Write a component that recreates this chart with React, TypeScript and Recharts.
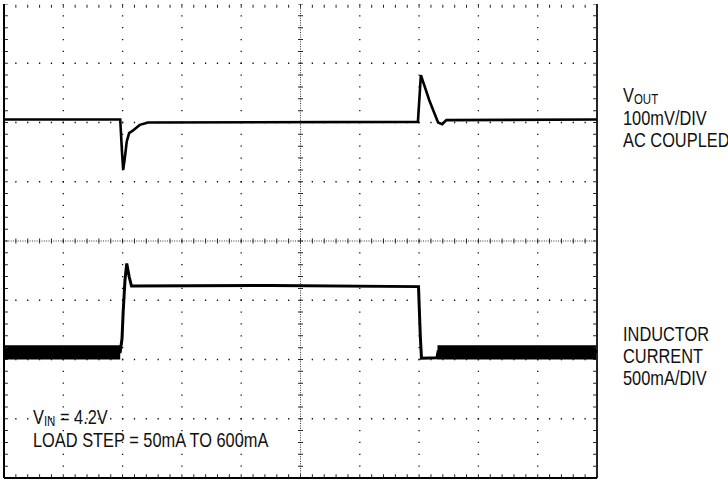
import { ComposedChart, Line, Area, XAxis, YAxis, ReferenceLine } from 'recharts';

// horizontal: time in divisions (0..10), vertical: level in divisions (-4..4)
const voutTime = [0, 1.96, 1.99, 2.01, 2.04, 2.07, 2.11, 2.18, 2.29, 2.43, 6.98, 7.03, 7.17, 7.32, 7.39, 7.46, 10];
const voutLevel = [2.05, 2.05, 1.5, 1.2, 1.42, 1.68, 1.82, 1.87, 1.96, 2.0, 2.01, 2.8, 2.38, 2.0, 1.97, 2.04, 2.05];

const currentTime = [0, 1.96, 1.99, 2.01, 2.04, 2.07, 2.11, 2.15, 4.5, 6.99, 7.02, 7.04, 7.3, 7.32, 10];
const currentLevel = [-1.87, -1.87, -1.65, -1.19, -0.66, -0.38, -0.6, -0.76, -0.75, -0.77, -1.6, -1.98, -1.97, -1.87, -1.87];

// light-load switching ripple shows up as a solid band
const rippleLeft = [0, 1.96];
const rippleRight = [7.31, 10];
const rippleRange = [-2.0, -1.76];

const majorT = [1, 2, 3, 4, 6, 7, 8, 9];
const majorV = [-3, -2, -1, 1, 2, 3];

const voutData = voutTime.map((t, i) => ({ t, v: voutLevel[i] }));
const currentData = currentTime.map((t, i) => ({ t, v: currentLevel[i] }));
const bandLeft = rippleLeft.map((t) => ({ t, band: rippleRange }));
const bandRight = rippleRight.map((t) => ({ t, band: rippleRange }));

const FONT = "'Liberation Sans', Arial, sans-serif";
const NARROW = 0.82; // no condensed face installed, squeeze the regular one
const DOT_H = '1.3 10.56';
const DOT_V = '1.3 10.55';

function Label({ x, lines }: { x: number; lines: { y: number; text: React.ReactNode }[] }) {
  return (
    <g transform={`translate(${x},0) scale(${NARROW},1)`}>
      {lines.map((l, i) => (
        <text key={i} x={0} y={l.y}>
          {l.text}
        </text>
      ))}
    </g>
  );
}

export default function App() {
  return (
    <div style={{ position: 'absolute', left: 0, top: 0, width: 728, height: 486, background: '#fff' }}>
      <ComposedChart width={728} height={486} margin={{ top: 4, right: 131, bottom: 8, left: 4 }}>
        <XAxis type="number" dataKey="t" domain={[0, 10]} hide allowDataOverflow />
        <YAxis type="number" domain={[-4, 4]} hide allowDataOverflow />

        {/* dotted graticule */}
        {majorT.map((t) => (
          <ReferenceLine key={'t' + t} x={t} stroke="#111" strokeWidth={1.3} strokeDasharray={DOT_V} strokeDashoffset={0.65} />
        ))}
        {majorV.map((v) => (
          <ReferenceLine key={'v' + v} y={v} stroke="#111" strokeWidth={1.3} strokeDasharray={DOT_H} strokeDashoffset={0.65} />
        ))}

        {/* center axes with fine dots and minor ticks */}
        <ReferenceLine x={5} stroke="#333" strokeWidth={1} strokeDasharray="1 1.37" strokeDashoffset={0.5} />
        <ReferenceLine x={5} stroke="#222" strokeWidth={5} strokeDasharray="1 10.85" strokeDashoffset={0.5} />
        <ReferenceLine y={0} stroke="#333" strokeWidth={1} strokeDasharray="1 1.37" strokeDashoffset={0.5} />
        <ReferenceLine y={0} stroke="#222" strokeWidth={5} strokeDasharray="1 10.86" strokeDashoffset={0.5} />

        {/* edge ticks */}
        <ReferenceLine x={0.04} stroke="#222" strokeWidth={3} strokeDasharray="1 10.85" strokeDashoffset={0.5} />
        <ReferenceLine x={9.96} stroke="#222" strokeWidth={3} strokeDasharray="1 10.85" strokeDashoffset={0.5} />
        <ReferenceLine y={3.96} stroke="#222" strokeWidth={3} strokeDasharray="1 10.86" strokeDashoffset={0.5} />
        <ReferenceLine y={-3.96} stroke="#222" strokeWidth={3} strokeDasharray="1 10.86" strokeDashoffset={0.5} />

        {/* frame */}
        <ReferenceLine x={0} stroke="#000" strokeWidth={2} />
        <ReferenceLine x={10} stroke="#222" strokeWidth={2} />
        <ReferenceLine y={-4} stroke="#000" strokeWidth={2} />

        <Area data={bandLeft} dataKey="band" type="linear" stroke="none" fill="#000" fillOpacity={1} isAnimationActive={false} />
        <Area data={bandRight} dataKey="band" type="linear" stroke="none" fill="#000" fillOpacity={1} isAnimationActive={false} />
        <Line data={currentData} dataKey="v" type="linear" stroke="#000" strokeWidth={3} dot={false} isAnimationActive={false} />
        <Line data={voutData} dataKey="v" type="linear" stroke="#000" strokeWidth={2.6} dot={false} isAnimationActive={false} />
      </ComposedChart>

      <svg width={728} height={486} style={{ position: 'absolute', left: 0, top: 0, pointerEvents: 'none' }}>
        <g fontFamily={FONT} fontSize={20} fill="#111">
          <Label
            x={623}
            lines={[
              { y: 102, text: <>V<tspan fontSize={14} dy={2.5}>OUT</tspan></> },
              { y: 125, text: '100mV/DIV' },
              { y: 147, text: 'AC COUPLED' },
            ]}
          />
          <Label
            x={623}
            lines={[
              { y: 341, text: 'INDUCTOR' },
              { y: 363, text: 'CURRENT' },
              { y: 385, text: '500mA/DIV' },
            ]}
          />
          <Label
            x={33}
            lines={[
              { y: 424, text: <>V<tspan fontSize={14} dy={2.5}>IN</tspan><tspan dy={-2.5}> = 4.2V</tspan></> },
              { y: 447, text: 'LOAD STEP = 50mA TO 600mA' },
            ]}
          />
        </g>
      </svg>
    </div>
  );
}
